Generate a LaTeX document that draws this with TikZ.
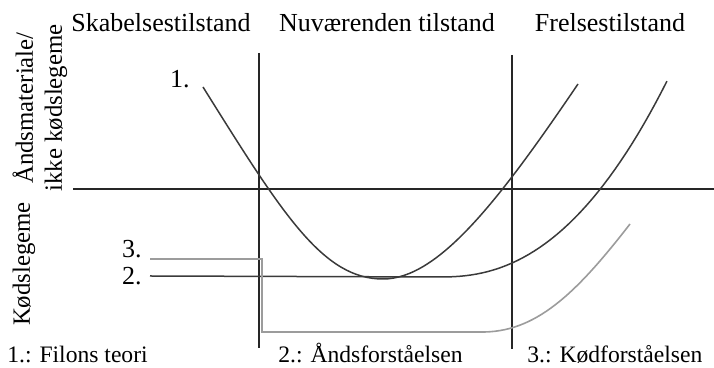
\documentclass[tikz,border=0pt]{standalone}
\usepackage{fontspec}
\setmainfont{Liberation Serif}
\usetikzlibrary{positioning}
\definecolor{inkdark}{HTML}{3A3A3A}
\definecolor{inkgray}{HTML}{9C9C9C}
\tikzset{axisline/.style={draw=black!85,line width=1pt},
  curve/.style={draw=inkdark,line width=.75pt},
  softcurve/.style={draw=inkgray,line width=.8pt},
  headlbl/.style={font=\fontsize{13}{15}\selectfont,anchor=base,inner sep=0pt},
  footlbl/.style={font=\fontsize{11.8}{14}\selectfont,anchor=base west,inner sep=0pt},
  numlbl/.style={font=\fontsize{13}{15}\selectfont,anchor=base east,inner sep=0pt},
  sidelbl/.style={font=\fontsize{12.4}{14.5}\selectfont,rotate=90,align=center,inner sep=0pt}}

\begin{document}
\begin{tikzpicture}[x=.5pt,y=-.5pt]
\useasboundingbox (0,0) rectangle (714,368);
% axes
\coordinate (axl) at (73,189);
\coordinate (axr) at (714,189);
\draw[axisline] (axl) -- (axr);
\foreach \name/\x/\top/\bot in {now/259/53/348,end/512/55/349} {
 \draw[axisline] (\x,\top) coordinate (\name top) -- (\x,\bot) coordinate (\name bot);
}
% headings
\node[headlbl] (skab) at (161,32) {Skabelsestilstand};
\node[headlbl] (nuv) at (387,32) {Nuværenden tilstand};
\node[headlbl] (frel) at (610,32) {Frelsestilstand};
\node[sidelbl] (aand) at (40,108) {Åndsmateriale/\\ikke kødslegeme};
\node[sidelbl] (kod) at (24,264) {Kødslegeme};
% the three courses
\coordinate (low) at (383,279);
\draw[curve] (203,87) .. controls (283,215) and (323,279) .. (low)
 .. controls (438,279) and (498,202) .. (578,84);
\draw[curve] (150,276) -- (440,277)
 -- plot[domain=0.02:2.27,samples=40] ({440+100*\x},{277-29.74*\x^2.3});
\draw[softcurve] (150,259) -| (262,332) -- (480,332)
 .. controls (535,333) and (575,295) .. (630,224);
\node[numlbl] (n1) at (190,88) {1.};
\node[numlbl] (n3) at (142,258) {3.};
\node[numlbl] (n2) at (142,285) {2.};
% legend
\node[footlbl] (f1) at (7,363) {1.: Filons teori};
\node[footlbl] (f2) at (278,363) {2.: Åndsforståelsen};
\node[footlbl] (f3) at (527,363) {3.: Kødforståelsen};
\end{tikzpicture}
\end{document}
